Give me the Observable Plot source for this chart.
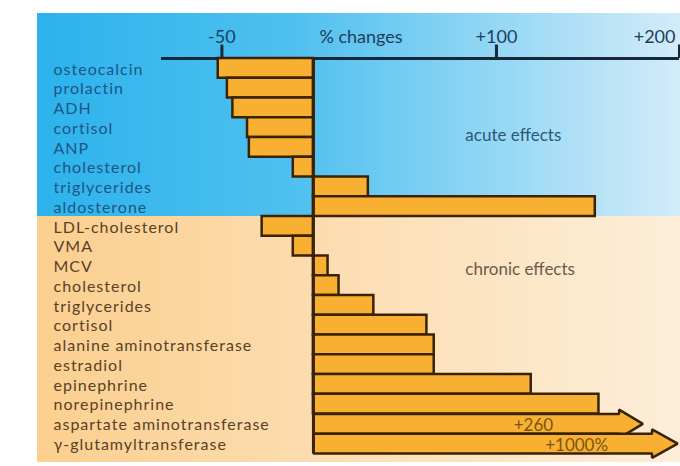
<!DOCTYPE html>
<html><head><meta charset="utf-8">
<script src="https://cdn.jsdelivr.net/npm/d3@7"></script>
<script src="https://cdn.jsdelivr.net/npm/@observablehq/plot@0.6"></script>
<style>body{margin:0;background:#fff} svg{display:block}</style>
</head><body><div id="chart"></div>
<script>
const acuteLabels = ["osteocalcin","prolactin","ADH","cortisol","ANP","cholesterol","triglycerides","aldosterone"];
const acuteValues = [-52,-47,-44,-36,-35,-11,30,154];
const chronicLabels = ["LDL-cholesterol","VMA","MCV","cholesterol","triglycerides","cortisol","alanine aminotransferase","estradiol","epinephrine","norepinephrine","aspartate aminotransferase","γ-glutamyltransferase"];
const chronicValues = [-28,-11,8,14,33,62,66,66,119,156,260,1000];
// off-scale bars are drawn as broken arrows: shaft end and tip on the axis scale
const offScaleValues = [260, 1000];
const offScaleShaftEnd = [167, 185];
const offScaleTip = [180, 199];
const offScaleText = ["+260", "+1000%"];
const offScaleTextEnd = [131, 161];
const tickValues = [-50, 100, 200];
const tickLabels = ["-50", "+100", "+200"];
const axisTitle = "% changes";
const groupTitles = ["acute effects", "chronic effects"];

const FONT = "Lato, sans-serif";
const BAR = "#f8b033", EDGE = "#3a2208";
const blueText = "#1f5486", brownText = "#5a4127";

const rows = [
  ...acuteLabels.map((label, i) => ({label, value: acuteValues[i], group: "acute", row: i})),
  ...chronicLabels.map((label, i) => ({label, value: chronicValues[i], group: "chronic", row: acuteLabels.length + i}))
];
const nRows = rows.length;
const xMin = -83, xMax = 200;
const inScale = rows.filter(d => d.value <= xMax);
const arrows = rows.filter(d => d.value > xMax).map(d => {
  const k = offScaleValues.indexOf(d.value);
  return {...d, shaft: offScaleShaftEnd[k], tip: offScaleTip[k], text: offScaleText[k], textEnd: offScaleTextEnd[k]};
});
const headHalf = 0.72;
const arrowPts = arrows.flatMap(a => {
  const r = a.row, c = a.row + 0.5;
  return [[0, r], [a.shaft, r], [a.shaft, c - headHalf], [a.tip, c], [a.shaft, c + headHalf], [a.shaft, r + 1], [0, r + 1], [0, r]]
    .map(([x, y]) => ({x, y, id: a.row}));
});

const backdrop = (index, {y}, values, {width}) => {
  const g = d3.create("svg:g");
  const defs = g.append("defs");
  const gb = defs.append("linearGradient").attr("id", "gBlue").attr("x1", 0).attr("x2", 1).attr("y1", 0).attr("y2", 0);
  gb.append("stop").attr("offset", "0%").attr("stop-color", "#2cb3ec");
  gb.append("stop").attr("offset", "40%").attr("stop-color", "#4fc0ef");
  gb.append("stop").attr("offset", "100%").attr("stop-color", "#d3ecf9");
  const gp = defs.append("linearGradient").attr("id", "gPeach").attr("x1", 0).attr("x2", 1).attr("y1", 0).attr("y2", 0);
  gp.append("stop").attr("offset", "0%").attr("stop-color", "#fbcf8f");
  gp.append("stop").attr("offset", "100%").attr("stop-color", "#fdeed9");
  const split = y(acuteLabels.length);
  g.append("rect").attr("x", 37).attr("y", 13).attr("width", width - 37).attr("height", split - 13).attr("fill", "url(#gBlue)");
  g.append("rect").attr("x", 37).attr("y", split).attr("width", width - 37).attr("height", 462 - split).attr("fill", "url(#gPeach)");
  return g.node();
};

const labelY = d => d.row + 0.5;
const labelStyle = {x: () => xMin, dx: -108, y: labelY, dy: 1, text: "label", textAnchor: "start", fontSize: 16};

const chart = Plot.plot({
  width: 680, height: 466,
  marginTop: 0, marginBottom: 0, marginLeft: 0, marginRight: 0,
  style: {fontFamily: FONT, background: "#fff", overflow: "visible"},
  x: {domain: [xMin, xMax], range: [161, 679], axis: null},
  y: {domain: [0, nRows], range: [58, 453], axis: null},
  marks: [
    backdrop,
    Plot.ruleY([0], {x1: xMin, x2: xMax, stroke: "#17283a", strokeWidth: 3}),
    Plot.ruleX(tickValues, {y1: 0, y2: -0.68, stroke: "#17283a", strokeWidth: 3}),
    Plot.text(tickValues.slice(0, -1), {x: d => d, y: 0, dy: -21, text: (d, i) => tickLabels[i], fill: "#1d3f5e", fontSize: 18, textAnchor: "middle"}),
    Plot.text(tickValues.slice(-1), {x: d => d, y: 0, dy: -21, text: () => tickLabels[tickLabels.length - 1], fill: "#1d3f5e", fontSize: 18, textAnchor: "end", dx: -4}),
    Plot.text([axisTitle], {x: 26, y: 0, dy: -21, text: d => d, fill: "#1d3f5e", fontSize: 18}),
    Plot.rect(inScale, {x1: () => 0, x2: "value", y1: "row", y2: d => d.row + 1, fill: BAR, stroke: EDGE, strokeWidth: 2.5}),
    Plot.line(arrowPts, {x: "x", y: "y", z: "id", fill: BAR, stroke: EDGE, strokeWidth: 2.5, strokeLinejoin: "miter", curve: "linear"}),
    Plot.ruleX([0], {y1: 0, y2: nRows, stroke: EDGE, strokeWidth: 3}),
    Plot.text(arrows, {x: "textEnd", y: d => d.row + 0.5, dy: 2, text: "text", textAnchor: "end", fill: "#7a5414", fontSize: 17}),
    Plot.text(rows.filter(d => d.group === "acute"), {...labelStyle, fill: blueText}),
    Plot.text(rows.filter(d => d.group === "chronic"), {...labelStyle, fill: brownText}),
    Plot.text([groupTitles[0]], {x: 83, y: 3.9, text: d => d, textAnchor: "start", fill: "#2d5878", fontSize: 17}),
    Plot.text([groupTitles[1]], {x: 83, y: 10.7, text: d => d, textAnchor: "start", fill: "#6a5a4a", fontSize: 17})
  ]
});
// widen the row labels' tracking to match the original's wide typeface
const labelSet = new Set(rows.map(d => d.label));
chart.querySelectorAll("text").forEach(t => {
  if (labelSet.has(t.textContent)) t.style.letterSpacing = "1px";
});
document.getElementById("chart").append(chart);
</script>
</body></html>
